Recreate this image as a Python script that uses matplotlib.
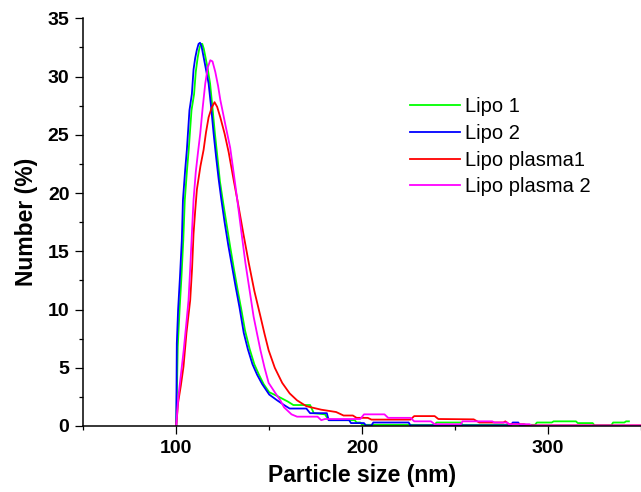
import matplotlib
matplotlib.use("Agg")
import matplotlib.pyplot as plt
from matplotlib.ticker import MultipleLocator

plt.rcParams['font.family'] = ['Liberation Sans', 'DejaVu Sans']

# Lipo 1 (green)
x_lipo1 = [100, 100.8, 101.8, 102.8, 103.8, 104.6, 105.8, 106.7, 108.2, 109.6, 110.5, 111.5, 112.3,
           113.2, 114.0, 114.8, 115.8, 117.0, 118.2, 119.5, 120.8, 122.2, 123.5, 125, 127, 129, 131,
           133, 135, 137, 139.5, 142, 144.5, 147, 150, 154, 160, 163, 172, 174, 180, 182, 196, 197,
           199, 200, 239, 240, 253, 254, 293, 294, 302, 303, 315, 316, 324, 325, 334, 335, 341, 342, 343.5]
y_lipo1 = [0, 6.8, 10, 12.8, 16, 19.4, 22, 23.7, 27.1, 28.5, 30.4, 31.6, 32.3,
           32.8, 32.8, 32.4, 31.6, 30.6, 29.4, 27.3, 25.1, 23.0, 21.0, 19.4, 17.4, 15.4, 13.5,
           11.7, 10.0, 8.2, 6.6, 5.3, 4.4, 3.6, 2.9, 2.6, 2.1, 1.8, 1.8, 1.1, 1.0, 0.5, 0.5, 0.3,
           0.3, 0.1, 0.1, 0.3, 0.3, 0.1, 0.1, 0.3, 0.3, 0.4, 0.4, 0.25, 0.25, 0.05, 0.05, 0.3, 0.3, 0.4, 0.4]

# Lipo 2 (blue)
x_lipo2 = [100, 100.3, 101, 102, 103, 103.6, 104.8, 105.7, 107.1, 108.4, 109.3, 110.2, 111.1, 112.0,
           112.8, 113.6, 114.8, 116.0, 117.4, 118.8, 120.1, 121.5, 122.8, 124.2, 126, 128, 130, 132,
           134, 136.3, 138.5, 141, 143.5, 146.2, 150, 154.3, 158, 161, 170, 172, 181, 182, 193, 194,
           201, 202, 205, 206, 225, 226, 280, 281, 284, 285, 350]
y_lipo2 = [0, 7.1, 10, 12.8, 16, 19.4, 22, 23.7, 27.1, 28.5, 30.6, 31.6, 32.3, 32.8,
           32.9, 32.6, 31.6, 30.6, 29.4, 27.3, 25.1, 23.0, 21.2, 19.5, 17.5, 15.5, 13.7, 11.9,
           10.2, 8.0, 6.6, 5.3, 4.4, 3.6, 2.7, 2.2, 1.8, 1.5, 1.5, 1.1, 1.1, 0.5, 0.5, 0.25,
           0.25, 0.05, 0.05, 0.3, 0.3, 0.05, 0.05, 0.3, 0.3, 0.0, 0.0]

# Lipo plasma1 (red)
x_plasma1 = [100, 101, 102.5, 103.9, 105.5, 107.5, 108.5, 109.3, 110.2, 111.1, 113, 114.7, 116, 117.4,
             119, 120.6, 122, 123.7, 126, 128.2, 130.9, 133, 136, 139, 142, 145.3, 147.5, 149.7, 153,
             157, 161, 165, 170, 178, 186, 190, 195, 197, 203, 205, 226, 228, 239, 241, 260, 263, 276,
             277, 279, 287, 289, 350]
y_plasma1 = [0, 2, 3.5, 5.1, 8, 10.8, 13.5, 16.5, 18.5, 20.3, 22.3, 23.7, 25.2, 26.5,
             27.3, 27.8, 27.4, 26.5, 25.1, 23.5, 21.1, 19.3, 16.6, 14.0, 11.6, 9.4, 7.9, 6.5, 5.0,
             3.7, 2.8, 2.2, 1.7, 1.4, 1.2, 0.9, 0.9, 0.7, 0.7, 0.55, 0.55, 0.85, 0.85, 0.6, 0.57, 0.3, 0.3,
             0.4, 0.15, 0.15, 0.05, 0.05]

# Lipo plasma 2 (magenta)
x_plasma2 = [100, 101, 102.5, 104, 105.3, 106.6, 107.5, 108.4, 109.3, 110.5, 111.7, 112.9, 114.2, 115.6,
             117, 118.3, 119.5, 121, 122.5, 123.7, 126.5, 129, 131, 133, 135, 137.2, 139.5,
             141.6, 143.5, 145.3, 147.5, 149.7, 153, 156, 158, 162, 165, 176, 178, 180, 199, 201, 212,
             214, 226, 228, 237, 239, 253, 254, 270, 271, 278, 279, 290, 291, 350]
y_plasma2 = [0, 2.3, 4.4, 6.5, 8.6, 10.8, 13.5, 16.5, 19.4, 21.8, 23.5, 25.1, 27.3, 29.4,
             30.8, 31.4, 31.3, 30.4, 29.2, 28.0, 25.8, 23.9, 21.6, 19.2, 16.7, 14.0, 11.6,
             9.4, 7.9, 6.5, 5.0, 3.7, 2.9, 2.2, 1.6, 1.0, 0.8, 0.8, 0.5, 0.6, 0.6, 1.0, 1.0,
             0.7, 0.7, 0.4, 0.4, 0.15, 0.15, 0.4, 0.4, 0.3, 0.3, 0.15, 0.15, 0.05, 0.05]

series = [
    ("Lipo 1", x_lipo1, y_lipo1, "#00ff00"),
    ("Lipo 2", x_lipo2, y_lipo2, "#0000ff"),
    ("Lipo plasma1", x_plasma1, y_plasma1, "#ff0000"),
    ("Lipo plasma 2", x_plasma2, y_plasma2, "#ff00ff"),
]

fig = plt.figure(figsize=(6.41, 4.92), dpi=100)
ax = fig.add_axes([83.3 / 641, 1 - 426 / 492, (641 - 83.3) / 641, (426 - 18.3) / 492])

for label, xs, ys, col in series:
    ax.plot(xs, ys, color=col, lw=1.3, label=label)

ax.set_xlim(50, 350)
ax.set_ylim(0, 35)
ax.xaxis.set_major_locator(MultipleLocator(100))
ax.xaxis.set_minor_locator(MultipleLocator(50))
ax.yaxis.set_major_locator(MultipleLocator(5))
ax.yaxis.set_minor_locator(MultipleLocator(2.5))
ax.set_xticks([100, 200, 300])

for s in ["top", "right"]:
    ax.spines[s].set_visible(False)
for s in ["left", "bottom"]:
    ax.spines[s].set_linewidth(1.1)

ax.tick_params(which="major", direction="out", length=6, width=0.9, labelsize=14, pad=4)
ax.tick_params(which="minor", direction="out", length=3, width=0.9)
for t in ax.get_xticklabels() + ax.get_yticklabels():
    t.set_fontweight("bold")

ax.set_xlabel("Particle size (nm)", fontsize=16.5, fontweight="bold", labelpad=5)
ax.set_ylabel("Number (%)", fontsize=16.5, fontweight="bold", labelpad=7)

leg = ax.legend(loc="upper left", bbox_to_anchor=(410 / 641, 1 - 97.5 / 492),
                bbox_transform=fig.transFigure, frameon=False, fontsize=14.5,
                handlelength=2.5, handletextpad=0.25, labelspacing=0.38,
                borderpad=0, borderaxespad=0)

fig.savefig("out.png", dpi=100)
